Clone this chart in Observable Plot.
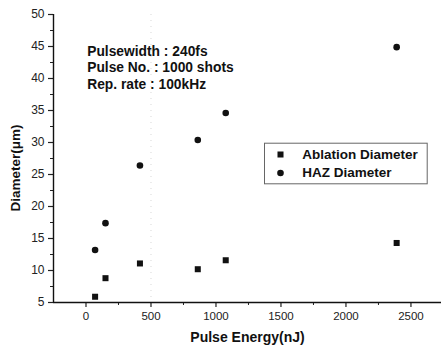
<!DOCTYPE html>
<html>
<head>
<meta charset="utf-8">
<script src="https://cdn.jsdelivr.net/npm/d3@7"></script>
<script src="https://cdn.jsdelivr.net/npm/@observablehq/plot@0.6"></script>
<style>
  html, body { margin: 0; padding: 0; background: #fff; }
  #chart svg { display: block; }
</style>
</head>
<body>
<div id="chart"></div>
<script>
// Data
const pulseEnergy = [70, 150, 415, 860, 1075, 2390];           // nJ
const ablationDiameter = [5.9, 8.8, 11.1, 10.2, 11.6, 14.3];    // µm
const hazDiameter = [13.2, 17.4, 26.4, 30.4, 34.6, 44.9];       // µm
const seriesNames = ["Ablation Diameter", "HAZ Diameter"];
const xTicks = [0, 500, 1000, 1500, 2000, 2500];
const xMinorTicks = [250, 750, 1250, 1750, 2250];
const yTicks = [5, 10, 15, 20, 25, 30, 35, 40, 45, 50];
const yMinorTicks = [7.5, 12.5, 17.5, 22.5, 27.5, 32.5, 37.5, 42.5, 47.5];
const annotation = ["Pulsewidth : 240fs", "Pulse No. : 1000 shots", "Rep. rate : 100kHz"];
const xTitle = "Pulse Energy(nJ)";
const yTitle = "Diameter(\u03bcm)";

const ablation = pulseEnergy.map((e, i) => ({energy: e, d: ablationDiameter[i]}));
const haz = pulseEnergy.map((e, i) => ({energy: e, d: hazDiameter[i]}));

const ink = "#111";
const font = "'Liberation Sans', Arial, sans-serif";

const chart = Plot.plot({
  width: 441,
  height: 351,
  marginLeft: 53,
  marginTop: 14,
  marginBottom: 49,
  marginRight: 0,
  style: {fontFamily: font, background: "#fff", overflow: "visible"},
  x: {domain: [-250, 2735]},
  y: {domain: [5, 50]},
  marks: [
    // faint scan artifact along the 500 nJ position
    Plot.ruleX([500], {stroke: "#aaa", strokeDasharray: "1,5", strokeOpacity: 0.45}),
    // axes
    Plot.axisX({ticks: xTicks, tickFormat: (d) => String(d), tickSize: 5, tickPadding: 4, fontSize: 11.5, color: "#222", label: null, strokeWidth: 1.2}),
    Plot.axisX({ticks: xMinorTicks, tickSize: 3, tickFormat: () => "", label: null, color: "#222"}),
    Plot.axisY({ticks: yTicks, tickFormat: (d) => String(d), tickSize: 5, tickPadding: 4, fontSize: 12, color: "#222", label: null, strokeWidth: 1.2}),
    Plot.axisY({ticks: yMinorTicks, tickSize: 3, tickFormat: () => "", label: null, color: "#222"}),
    Plot.ruleY([5], {stroke: ink, strokeWidth: 1.4}),
    Plot.ruleX([-250], {stroke: ink, strokeWidth: 1.4}),
    // axis titles
    Plot.text([xTitle], {frameAnchor: "bottom", textAnchor: "middle", lineAnchor: "middle", dy: 35, fontSize: 14, fontWeight: "bold", fill: ink}),
    Plot.text([yTitle], {frameAnchor: "left", textAnchor: "middle", lineAnchor: "middle", rotate: -90, dx: -38, dy: 9.5, fontSize: 13.5, fontWeight: "bold", fill: ink}),
    // annotation
    Plot.text([annotation.join("\n")], {frameAnchor: "top-left", textAnchor: "start", lineAnchor: "middle", lineHeight: 1.2, dx: 33.7, dy: 52.5, fontSize: 13.8, fontWeight: "bold", fill: ink}),
    // data
    Plot.dot(ablation, {x: "energy", y: "d", symbol: "square", r: 3.4, fill: ink, stroke: "none"}),
    Plot.dot(haz, {x: "energy", y: "d", symbol: "circle", r: 3.3, fill: ink, stroke: "none"}),
    // legend
    Plot.frame({stroke: "#666", strokeWidth: 1, insetLeft: 211, insetTop: 128.7, insetRight: 14.3, insetBottom: 118.7}),
    Plot.dot([seriesNames[0]], {x: null, y: null, frameAnchor: "top-left", dx: 227, dy: 140, symbol: "square", r: 3.4, fill: ink, stroke: "none"}),
    Plot.dot([seriesNames[1]], {x: null, y: null, frameAnchor: "top-left", dx: 227, dy: 158.5, symbol: "circle", r: 3.3, fill: ink, stroke: "none"}),
    Plot.text([seriesNames[0]], {frameAnchor: "top-left", textAnchor: "start", lineAnchor: "middle", dx: 248.7, dy: 140, fontSize: 13.5, fontWeight: "bold", fill: ink}),
    Plot.text([seriesNames[1]], {frameAnchor: "top-left", textAnchor: "start", lineAnchor: "middle", dx: 248.7, dy: 158.5, fontSize: 13.5, fontWeight: "bold", fill: ink})
  ]
});
document.getElementById("chart").appendChild(chart);
</script>
</body>
</html>
